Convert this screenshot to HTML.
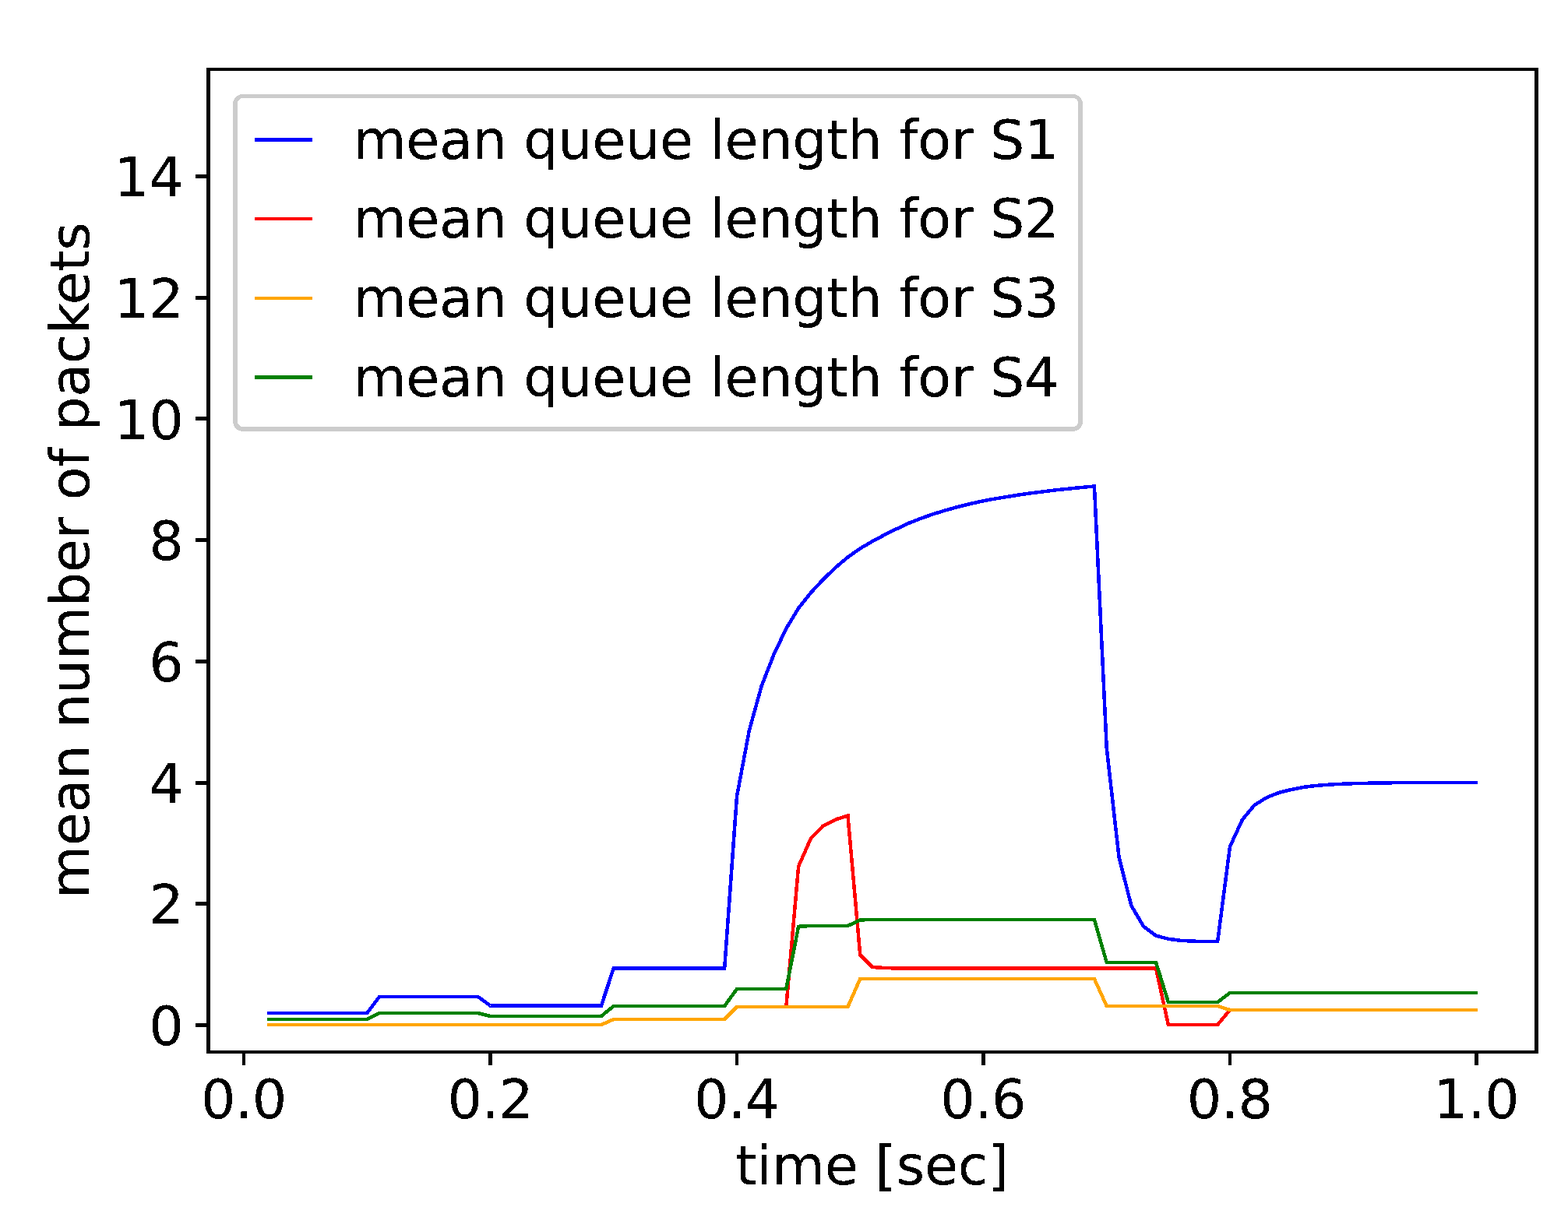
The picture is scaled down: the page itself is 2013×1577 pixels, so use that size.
<!DOCTYPE html>
<html lang="en"><head><meta charset="utf-8"><title>mean queue length</title>
<style>html,body{margin:0;padding:0;background:#fff;}svg{display:block;}text{font-family:'DejaVu Sans','Liberation Sans',sans-serif;font-size:70px;fill:#000;}</style></head>
<body>
<svg width="2013" height="1577" viewBox="0 0 2013 1577">
<defs><filter id="hard" filterUnits="userSpaceOnUse" x="0" y="0" width="2013" height="1577" color-interpolation-filters="sRGB"><feComponentTransfer><feFuncA type="discrete" tableValues="0 0 1 1 1"/></feComponentTransfer></filter></defs>
<rect x="0" y="0" width="2013" height="1577" fill="#ffffff"/>
<g fill="none" stroke-width="4.5" stroke-linecap="butt" stroke-linejoin="miter" shape-rendering="crispEdges">
<polyline stroke="#0000ff" points="342.65,1301.00 344.65,1301.00 360.48,1301.00 376.30,1301.00 392.12,1301.00 407.95,1301.00 423.77,1301.00 439.60,1301.00 455.42,1301.00 471.25,1301.00 487.07,1280.00 502.90,1280.00 518.73,1280.00 534.55,1280.00 550.38,1280.00 566.20,1280.00 582.02,1280.00 597.85,1280.00 613.67,1280.00 629.50,1291.50 645.33,1291.50 661.15,1291.50 676.97,1291.50 692.80,1291.50 708.62,1291.50 724.45,1291.50 740.27,1291.50 756.10,1291.50 771.92,1291.50 787.75,1243.50 803.58,1243.50 819.40,1243.50 835.23,1243.50 851.05,1243.50 866.88,1243.50 882.70,1243.50 898.52,1243.50 914.35,1243.50 930.17,1243.50 946.00,1022.50 961.82,938.20 977.65,881.00 993.48,840.50 1009.30,807.20 1025.12,781.00 1040.95,761.20 1056.78,744.10 1072.60,728.90 1088.42,715.50 1104.25,704.40 1120.07,695.10 1135.90,686.70 1151.72,678.90 1167.55,671.50 1183.38,665.30 1199.20,659.80 1215.03,655.00 1230.85,650.60 1246.67,646.70 1262.50,643.30 1278.32,640.30 1294.15,637.80 1309.97,635.20 1325.80,633.00 1341.62,631.00 1357.45,629.10 1373.27,627.50 1389.10,625.90 1404.92,624.50 1420.75,960.80 1436.58,1101.00 1452.40,1163.20 1468.22,1189.80 1484.05,1201.60 1499.88,1205.80 1515.70,1207.80 1531.52,1208.70 1547.35,1209.00 1563.17,1209.00 1579.00,1087.30 1594.83,1052.80 1610.65,1033.80 1626.47,1024.00 1642.30,1017.80 1658.12,1013.90 1673.95,1010.80 1689.77,1008.90 1705.60,1007.70 1721.42,1006.80 1737.25,1006.20 1753.08,1005.80 1768.90,1005.50 1784.72,1005.30 1800.55,1005.00 1816.38,1005.00 1832.20,1005.00 1848.02,1005.00 1863.85,1005.00 1879.67,1005.00 1895.50,1005.00 1897.10,1005.00"/>
<polyline stroke="#ff0000" points="342.65,1316.00 344.65,1316.00 360.48,1316.00 376.30,1316.00 392.12,1316.00 407.95,1316.00 423.77,1316.00 439.60,1316.00 455.42,1316.00 471.25,1316.00 487.07,1316.00 502.90,1316.00 518.73,1316.00 534.55,1316.00 550.38,1316.00 566.20,1316.00 582.02,1316.00 597.85,1316.00 613.67,1316.00 629.50,1316.00 645.33,1316.00 661.15,1316.00 676.97,1316.00 692.80,1316.00 708.62,1316.00 724.45,1316.00 740.27,1316.00 756.10,1316.00 771.92,1316.00 787.75,1309.00 803.58,1309.00 819.40,1309.00 835.23,1309.00 851.05,1309.00 866.88,1309.00 882.70,1309.00 898.52,1309.00 914.35,1309.00 930.17,1309.00 946.00,1293.00 961.82,1293.00 977.65,1293.00 993.48,1293.00 1009.30,1293.00 1025.12,1112.60 1040.95,1076.70 1056.78,1060.40 1072.60,1052.50 1088.42,1047.30 1104.25,1226.30 1120.07,1242.00 1135.90,1243.00 1151.72,1243.50 1167.55,1243.50 1183.38,1243.50 1199.20,1243.50 1215.03,1243.50 1230.85,1243.50 1246.67,1243.50 1262.50,1243.50 1278.32,1243.50 1294.15,1243.50 1309.97,1243.50 1325.80,1243.50 1341.62,1243.50 1357.45,1243.50 1373.27,1243.50 1389.10,1243.50 1404.92,1243.50 1420.75,1243.50 1436.58,1243.50 1452.40,1243.50 1468.22,1243.50 1484.05,1243.50 1499.88,1316.00 1515.70,1316.00 1531.52,1316.00 1547.35,1316.00 1563.17,1316.00 1579.00,1297.00 1594.83,1297.00 1610.65,1297.00 1626.47,1297.00 1642.30,1297.00 1658.12,1297.00 1673.95,1297.00 1689.77,1297.00 1705.60,1297.00 1721.42,1297.00 1737.25,1297.00 1753.08,1297.00 1768.90,1297.00 1784.72,1297.00 1800.55,1297.00 1816.38,1297.00 1832.20,1297.00 1848.02,1297.00 1863.85,1297.00 1879.67,1297.00 1895.50,1297.00 1897.10,1297.00"/>
<polyline stroke="#ffa500" points="342.65,1316.00 344.65,1316.00 360.48,1316.00 376.30,1316.00 392.12,1316.00 407.95,1316.00 423.77,1316.00 439.60,1316.00 455.42,1316.00 471.25,1316.00 487.07,1316.00 502.90,1316.00 518.73,1316.00 534.55,1316.00 550.38,1316.00 566.20,1316.00 582.02,1316.00 597.85,1316.00 613.67,1316.00 629.50,1316.00 645.33,1316.00 661.15,1316.00 676.97,1316.00 692.80,1316.00 708.62,1316.00 724.45,1316.00 740.27,1316.00 756.10,1316.00 771.92,1316.00 787.75,1309.00 803.58,1309.00 819.40,1309.00 835.23,1309.00 851.05,1309.00 866.88,1309.00 882.70,1309.00 898.52,1309.00 914.35,1309.00 930.17,1309.00 946.00,1293.00 961.82,1293.00 977.65,1293.00 993.48,1293.00 1009.30,1293.00 1025.12,1293.00 1040.95,1293.00 1056.78,1293.00 1072.60,1293.00 1088.42,1293.00 1104.25,1257.00 1120.07,1257.00 1135.90,1257.00 1151.72,1257.00 1167.55,1257.00 1183.38,1257.00 1199.20,1257.00 1215.03,1257.00 1230.85,1257.00 1246.67,1257.00 1262.50,1257.00 1278.32,1257.00 1294.15,1257.00 1309.97,1257.00 1325.80,1257.00 1341.62,1257.00 1357.45,1257.00 1373.27,1257.00 1389.10,1257.00 1404.92,1257.00 1420.75,1292.00 1436.58,1292.00 1452.40,1292.00 1468.22,1292.00 1484.05,1292.00 1499.88,1292.00 1515.70,1292.00 1531.52,1292.00 1547.35,1292.00 1563.17,1292.00 1579.00,1297.00 1594.83,1297.00 1610.65,1297.00 1626.47,1297.00 1642.30,1297.00 1658.12,1297.00 1673.95,1297.00 1689.77,1297.00 1705.60,1297.00 1721.42,1297.00 1737.25,1297.00 1753.08,1297.00 1768.90,1297.00 1784.72,1297.00 1800.55,1297.00 1816.38,1297.00 1832.20,1297.00 1848.02,1297.00 1863.85,1297.00 1879.67,1297.00 1895.50,1297.00 1897.10,1297.00"/>
<polyline stroke="#008000" points="342.65,1309.00 344.65,1309.00 360.48,1309.00 376.30,1309.00 392.12,1309.00 407.95,1309.00 423.77,1309.00 439.60,1309.00 455.42,1309.00 471.25,1309.00 487.07,1301.00 502.90,1301.00 518.73,1301.00 534.55,1301.00 550.38,1301.00 566.20,1301.00 582.02,1301.00 597.85,1301.00 613.67,1301.00 629.50,1305.00 645.33,1305.00 661.15,1305.00 676.97,1305.00 692.80,1305.00 708.62,1305.00 724.45,1305.00 740.27,1305.00 756.10,1305.00 771.92,1305.00 787.75,1292.00 803.58,1292.00 819.40,1292.00 835.23,1292.00 851.05,1292.00 866.88,1292.00 882.70,1292.00 898.52,1292.00 914.35,1292.00 930.17,1292.00 946.00,1270.00 961.82,1270.00 977.65,1270.00 993.48,1270.00 1009.30,1270.00 1025.12,1189.80 1040.95,1189.00 1056.78,1189.00 1072.60,1189.00 1088.42,1189.00 1104.25,1181.40 1120.07,1181.00 1135.90,1181.00 1151.72,1181.00 1167.55,1181.00 1183.38,1181.00 1199.20,1181.00 1215.03,1181.00 1230.85,1181.00 1246.67,1181.00 1262.50,1181.00 1278.32,1181.00 1294.15,1181.00 1309.97,1181.00 1325.80,1181.00 1341.62,1181.00 1357.45,1181.00 1373.27,1181.00 1389.10,1181.00 1404.92,1181.00 1420.75,1236.00 1436.58,1236.00 1452.40,1236.00 1468.22,1236.00 1484.05,1236.00 1499.88,1287.00 1515.70,1287.00 1531.52,1287.00 1547.35,1287.00 1563.17,1287.00 1579.00,1275.00 1594.83,1275.00 1610.65,1275.00 1626.47,1275.00 1642.30,1275.00 1658.12,1275.00 1673.95,1275.00 1689.77,1275.00 1705.60,1275.00 1721.42,1275.00 1737.25,1275.00 1753.08,1275.00 1768.90,1275.00 1784.72,1275.00 1800.55,1275.00 1816.38,1275.00 1832.20,1275.00 1848.02,1275.00 1863.85,1275.00 1879.67,1275.00 1895.50,1275.00 1897.10,1275.00"/>
</g>
<g fill="#000" shape-rendering="crispEdges">
<rect x="265" y="87" width="5" height="1266"/>
<rect x="1970" y="87" width="5" height="1266"/>
<rect x="265" y="87" width="1710" height="4"/>
<rect x="265" y="1349" width="1710" height="4"/>
<rect x="311" y="1353" width="4" height="15"/>
<rect x="627" y="1353" width="5" height="15"/>
<rect x="944" y="1353" width="4" height="15"/>
<rect x="1260" y="1353" width="5" height="15"/>
<rect x="1577" y="1353" width="4" height="15"/>
<rect x="1893" y="1353" width="5" height="15"/>
<rect x="251" y="1314" width="14" height="5"/>
<rect x="251" y="1158" width="14" height="5"/>
<rect x="251" y="1003" width="14" height="5"/>
<rect x="251" y="847" width="14" height="5"/>
<rect x="251" y="691" width="14" height="5"/>
<rect x="251" y="535" width="14" height="5"/>
<rect x="251" y="380" width="14" height="5"/>
<rect x="251" y="224" width="14" height="5"/>
</g>
<g shape-rendering="crispEdges">
<rect x="299.1" y="121.1" width="1090.9" height="432.7" rx="12.5" ry="12.5" fill="#cccccc"/>
<rect x="304.9" y="125.9" width="1079.4" height="422.2" rx="7" ry="7" fill="#ffffff"/>
<rect x="327" y="177" width="74" height="5" fill="#0000ff"/>
<rect x="327" y="279" width="74" height="4" fill="#ff0000"/>
<rect x="327" y="381" width="74" height="4" fill="#ffa500"/>
<rect x="327" y="482" width="74" height="5" fill="#008000"/>
</g>
<g filter="url(#hard)">
<text x="257.9" y="1436.2" textLength="110.3" lengthAdjust="spacing">0.0</text>
<text x="574.4" y="1436.2" textLength="110.3" lengthAdjust="spacing">0.2</text>
<text x="890.9" y="1436.2" textLength="110.3" lengthAdjust="spacing">0.4</text>
<text x="1207.3" y="1436.2" textLength="110.3" lengthAdjust="spacing">0.6</text>
<text x="1523.8" y="1436.2" textLength="110.3" lengthAdjust="spacing">0.8</text>
<text x="1840.3" y="1436.2" textLength="110.3" lengthAdjust="spacing">1.0</text>
<text x="235.8" y="1342.1" text-anchor="end">0</text>
<text x="235.8" y="1186.4" text-anchor="end">2</text>
<text x="235.8" y="1030.7" text-anchor="end">4</text>
<text x="235.8" y="875.0" text-anchor="end">6</text>
<text x="235.8" y="719.2" text-anchor="end">8</text>
<text x="235.8" y="563.5" text-anchor="end">10</text>
<text x="235.8" y="407.8" text-anchor="end">12</text>
<text x="235.8" y="252.1" text-anchor="end">14</text>
<text x="944.2" y="1521" textLength="351.2" lengthAdjust="spacing">time [sec]</text>
<text transform="translate(114.3,1154) rotate(-90)" x="0" y="0" textLength="868.8" lengthAdjust="spacing">mean number of packets</text>
<text x="453.5" y="204.0" textLength="906" lengthAdjust="spacing">mean queue length for S1</text>
<text x="453.5" y="305.3" textLength="906" lengthAdjust="spacing">mean queue length for S2</text>
<text x="453.5" y="407.0" textLength="906" lengthAdjust="spacing">mean queue length for S3</text>
<text x="453.5" y="508.9" textLength="906" lengthAdjust="spacing">mean queue length for S4</text>
</g>
</svg>
</body></html>
